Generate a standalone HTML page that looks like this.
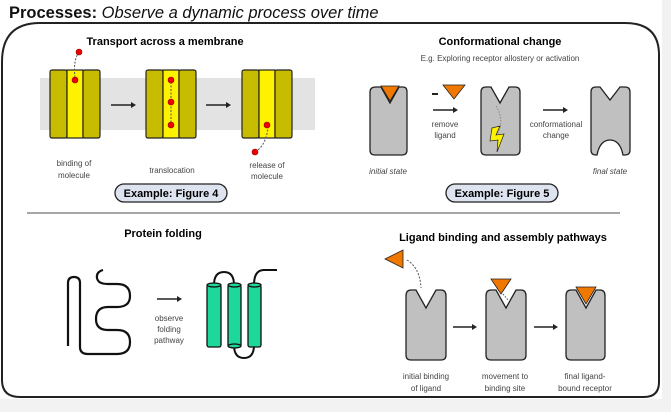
<!DOCTYPE html>
<html><head><meta charset="utf-8"><style>
html,body{margin:0;padding:0;background:#f2f2f2;}
svg{display:block;font-family:"Liberation Sans",Arial,sans-serif;}
</style></head><body>
<svg width="671" height="412" viewBox="0 0 671 412">
<rect x="0" y="0" width="671" height="412" fill="#f2f2f2"/>
<rect x="0" y="0" width="662" height="399" fill="#fff"/>
<text x="9" y="18" font-size="16.5" fill="#111"><tspan font-weight="bold">Processes:</tspan><tspan font-style="italic"> Observe a dynamic process over time</tspan></text>
<path d="M2,380 L2,62 Q2,23 40,23 L625,23 Q659,23 659,55 L659,382 Q659,397 644,397 L20,397 Q2,397 2,380" fill="none" stroke="#222" stroke-width="2"/>
<line x1="27" y1="213" x2="620" y2="213" stroke="#888" stroke-width="1.5"/>

<!-- Transport -->
<text x="165" y="45" font-size="11" font-weight="bold" text-anchor="middle">Transport across a membrane</text>
<rect x="40" y="78" width="275" height="52" fill="#e3e3e3"/>
<g stroke="#222" stroke-width="1.2">
<rect x="50" y="70" width="17" height="68" rx="2" fill="#c8bc00"/><rect x="67" y="70" width="16" height="68" fill="#fff200"/><rect x="83" y="70" width="17" height="68" rx="2" fill="#c8bc00"/>
<rect x="146" y="70" width="17" height="68" rx="2" fill="#c8bc00"/><rect x="163" y="70" width="16" height="68" fill="#fff200"/><rect x="179" y="70" width="17" height="68" rx="2" fill="#c8bc00"/>
<rect x="242" y="70" width="17" height="68" rx="2" fill="#c8bc00"/><rect x="259" y="70" width="16" height="68" fill="#fff200"/><rect x="275" y="70" width="17" height="68" rx="2" fill="#c8bc00"/>
</g>
<path d="M79,52 Q73,60 75,78" fill="none" stroke="#555" stroke-dasharray="2,1.5"/>
<path d="M171,82 L171,123" stroke="#555" stroke-dasharray="2,1.5"/>
<path d="M268,126 Q267,142 258,150" fill="none" stroke="#555" stroke-dasharray="2,1.5"/>
<g fill="#e00" stroke="#900" stroke-width="0.6">
<circle cx="79" cy="52" r="3"/><circle cx="75" cy="80" r="3"/>
<circle cx="171" cy="80" r="3"/><circle cx="171" cy="102" r="3"/><circle cx="171" cy="125" r="3"/>
<circle cx="267" cy="125" r="3"/><circle cx="255" cy="152" r="3"/></g>
<g stroke="#222" stroke-width="1.5"><line x1="111" y1="105" x2="132" y2="105"/><line x1="206" y1="105" x2="227" y2="105"/>
<line x1="433" y1="110" x2="454" y2="110"/><line x1="543" y1="110" x2="564" y2="110"/>
<line x1="157" y1="299" x2="178" y2="299"/><line x1="453" y1="327" x2="473" y2="327"/><line x1="534" y1="327" x2="554" y2="327"/></g>
<g fill="#222"><path d="M136,105 l-5,-3 v6z"/><path d="M231,105 l-5,-3 v6z"/><path d="M458,110 l-5,-3 v6z"/><path d="M568,110 l-5,-3 v6z"/><path d="M182,299 l-5,-3 v6z"/><path d="M477,327 l-5,-3 v6z"/><path d="M558,327 l-5,-3 v6z"/></g>
<g font-size="8" fill="#444" text-anchor="middle">
<text x="74" y="166">binding of</text><text x="74" y="178">molecule</text>
<text x="172" y="173">translocation</text>
<text x="267" y="168">release of</text><text x="267" y="179">molecule</text>
<text x="445" y="127">remove</text><text x="445" y="138">ligand</text>
<text x="556" y="127">conformational</text><text x="556" y="138">change</text>
<text x="388" y="174" font-style="italic">initial state</text><text x="610" y="174" font-style="italic">final state</text>
<text x="169" y="321">observe</text><text x="169" y="332">folding</text><text x="169" y="343">pathway</text>
<text x="426" y="379">initial binding</text><text x="426" y="391">of ligand</text>
<text x="505" y="379">movement to</text><text x="505" y="391">binding site</text>
<text x="585" y="379">final ligand-</text><text x="585" y="391">bound receptor</text>
</g>
<rect x="115" y="184" width="112" height="18" rx="9" fill="#dde3ef" stroke="#222" stroke-width="1.3"/>
<text x="171" y="197" font-size="11" font-weight="bold" text-anchor="middle">Example: Figure 4</text>
<rect x="446" y="184" width="112" height="18" rx="9" fill="#dde3ef" stroke="#222" stroke-width="1.3"/>
<text x="502" y="197" font-size="11" font-weight="bold" text-anchor="middle">Example: Figure 5</text>

<!-- Conformational -->
<text x="500" y="45" font-size="11" font-weight="bold" text-anchor="middle">Conformational change</text>
<text x="500" y="61" font-size="8" fill="#444" text-anchor="middle">E.g. Exploring receptor allostery or activation</text>
<g fill="#c0c0c0" stroke="#222" stroke-width="1.3">
<path d="M376,87 L381,87 L390,103 L399,87 L403,87 Q407,87 407,92 L407,150 Q407,155 402,155 L375,155 Q370,155 370,150 L370,92 Q370,87 376,87Z"/>
<path d="M486,87 L491,87 L500,103 L509,87 L515,87 Q520,87 520,92 L520,150 Q520,155 515,155 L486,155 Q481,155 481,150 L481,92 Q481,87 486,87Z"/>
<path d="M596,87 L600,87 L610,100 L620,87 L625,87 Q630,87 630,92 L630,150 Q630,155 625,155 L623,155 Q620,140 610,140 Q600,140 597,155 L596,155 Q591,155 591,150 L591,92 Q591,87 596,87Z"/>
<path d="M411,290 L416,290 L426,308 L436,290 L441,290 Q446,290 446,296 L446,355 Q446,360 441,360 L411,360 Q406,360 406,355 L406,296 Q406,290 411,290Z"/>
<path d="M491,290 L496,290 L506,308 L516,290 L521,290 Q526,290 526,296 L526,355 Q526,360 521,360 L491,360 Q486,360 486,355 L486,296 Q486,290 491,290Z"/>
<path d="M571,290 L576,290 L586,308 L596,290 L600,290 Q605,290 605,296 L605,355 Q605,360 600,360 L571,360 Q566,360 566,355 L566,296 Q566,290 571,290Z"/>
</g>
<g fill="#f07800" stroke="#222" stroke-width="0.8">
<path d="M381,86 L399,86 L390,101Z"/><path d="M443,85 L465,85 L454,99Z"/>
<path d="M385,259 L403,250 L403,268Z"/><path d="M491,279 L511,279 L501,294Z"/><path d="M576,287 L596,287 L586,304Z"/></g>
<line x1="432" y1="94" x2="438" y2="94" stroke="#222" stroke-width="2"/>
<path d="M496,106 Q505,120 497,135" fill="none" stroke="#888" stroke-dasharray="1.5,1.5"/>
<path d="M492,128 L500,126 L496,135 L504,134 L497,152 L498,140 L490,141Z" fill="#fff200" stroke="#222" stroke-width="0.7"/>
<path d="M407,260 Q420,268 421,288" fill="none" stroke="#555" stroke-dasharray="2,1.5"/>
<path d="M503,294 L508,300" stroke="#555" stroke-dasharray="1.5,1.5"/>

<!-- Protein folding -->
<text x="163" y="237" font-size="11" font-weight="bold" text-anchor="middle">Protein folding</text>
<path d="M68,346 L68,283 Q68,277 74,277 Q80,277 80,283 L80,347 Q80,354 88,354 L117,354 Q130,354 130,342 Q130,330 117,330 L108,330 Q96,330 96,319 Q96,307 108,307 L117,307 Q130,307 130,296 Q130,284 117,284 L108,284 Q98,284 97,278 Q96,272 103,270" fill="none" stroke="#111" stroke-width="2.2"/>
<path d="M214,285 Q214,272 224,272 Q234,272 234,285" fill="none" stroke="#111" stroke-width="2"/>
<path d="M234,345 Q234,358 244,358 Q254,358 254,345" fill="none" stroke="#111" stroke-width="2"/>
<path d="M254,285 Q254,270 264,270 L277,270" fill="none" stroke="#111" stroke-width="2"/>
<g fill="#1ed79a" stroke="#111" stroke-width="1.3">
<rect x="207" y="285" width="14" height="62" rx="2"/><rect x="228" y="285" width="13" height="62" rx="2"/><rect x="248" y="285" width="13" height="62" rx="2"/>
<ellipse cx="214" cy="285" rx="7" ry="2"/><ellipse cx="234.5" cy="285" rx="6.5" ry="2"/><ellipse cx="254.5" cy="285" rx="6.5" ry="2"/>
<ellipse cx="234.5" cy="346" rx="6.5" ry="2"/></g>

<text x="503" y="241" font-size="11" font-weight="bold" text-anchor="middle">Ligand binding and assembly pathways</text>
</svg>
</body></html>
